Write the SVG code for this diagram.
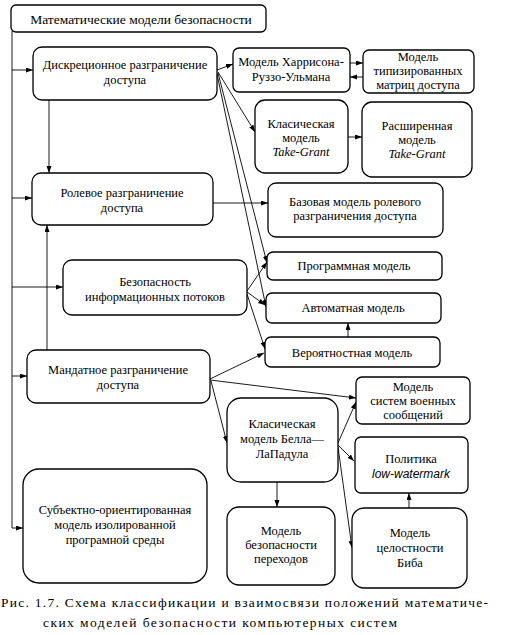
<svg xmlns="http://www.w3.org/2000/svg" width="515" height="635" viewBox="0 0 515 635">
<style>
.b{fill:#fff;stroke:#000;stroke-width:1.3}
text{font-family:'Liberation Serif','Times New Roman','DejaVu Serif',serif;fill:#000}
.t{font-size:12.5px;text-anchor:middle}
.i{font-style:italic}
.s{font-family:'Liberation Sans','DejaVu Sans',sans-serif;font-style:italic;font-size:12px}
.c{fill:none;stroke:#000;stroke-width:0.9}
.cap{font-size:13.5px}
</style>
<defs>
<marker id="a" markerUnits="userSpaceOnUse" markerWidth="8" markerHeight="6" refX="7" refY="2.5" orient="auto">
<path d="M0,0 L7,2.5 L0,5 z" fill="#000"/>
</marker>
</defs>
<rect width="515" height="635" fill="#fff"/>
<g id="connectors" class="c" marker-end="url(#a)">
<polyline points="12,31 12,528 23,528"/>
<line x1="12" y1="70" x2="33" y2="70"/>
<line x1="12" y1="198" x2="32" y2="198"/>
<line x1="12" y1="287" x2="63" y2="287"/>
<line x1="12" y1="376" x2="27" y2="376"/>
<line x1="49" y1="100" x2="49" y2="173"/>
<line x1="47" y1="350" x2="47" y2="225"/>
<line x1="217" y1="70" x2="233" y2="64"/>
<line x1="350" y1="63" x2="363" y2="63"/>
<line x1="363" y1="77" x2="350" y2="77"/>
<line x1="218" y1="72" x2="255" y2="132"/>
<line x1="348" y1="137" x2="362" y2="137"/>
<line x1="218" y1="73" x2="267" y2="263"/>
<line x1="217" y1="74" x2="266" y2="307"/>
<line x1="213" y1="203" x2="268" y2="203"/>
<line x1="247" y1="291" x2="267" y2="262"/>
<line x1="247" y1="292" x2="265" y2="305"/>
<line x1="247" y1="294" x2="265" y2="349"/>
<line x1="348" y1="337" x2="348" y2="323"/>
<line x1="210" y1="379" x2="264" y2="353"/>
<line x1="210" y1="380" x2="356" y2="398"/>
<line x1="211" y1="381" x2="227" y2="443"/>
<line x1="338" y1="443" x2="356" y2="402"/>
<line x1="338" y1="445" x2="354" y2="461"/>
<line x1="338" y1="447" x2="352" y2="548"/>
<line x1="277" y1="482" x2="277" y2="507"/>
<line x1="409" y1="508" x2="409" y2="493"/>
</g>
<g id="root">
<rect class="b" x="11" y="5" width="255" height="27" rx="5"/>
<text class="t" x="141" y="24" style="font-size:13.5px">Математические модели безопасности</text>
</g>
<g id="discretionary">
<rect class="b" x="33" y="47" width="184" height="53" rx="9"/>
<text class="t" x="125" y="69">Дискреционное разграничение</text>
<text class="t" x="125" y="84">доступа</text>
</g>
<g id="role">
<rect class="b" x="32" y="173" width="181" height="52" rx="9"/>
<text class="t" x="122" y="197">Ролевое разграничение</text>
<text class="t" x="122" y="212">доступа</text>
</g>
<g id="flows">
<rect class="b" x="63" y="260" width="184" height="55" rx="9"/>
<text class="t" x="155" y="286">Безопасность</text>
<text class="t" x="155" y="301">информационных потоков</text>
</g>
<g id="mandatory">
<rect class="b" x="27" y="350" width="183" height="53" rx="9"/>
<text class="t" x="118" y="374">Мандатное разграничение</text>
<text class="t" x="118" y="389">доступа</text>
</g>
<g id="subject">
<rect class="b" x="23" y="469" width="184" height="114" rx="16"/>
<text class="t" x="115" y="514">Субъектно-ориентированная</text>
<text class="t" x="115" y="529">модель изолированной</text>
<text class="t" x="115" y="544">програмной среды</text>
</g>
<g id="hru">
<rect class="b" x="233" y="48" width="117" height="44" rx="6"/>
<text class="t" x="291" y="66">Модель Харрисона-</text>
<text class="t" x="291" y="81">Руззо-Ульмана</text>
</g>
<g id="typed">
<rect class="b" x="363" y="50" width="111" height="43" rx="6"/>
<text class="t" x="418" y="61">Модель</text>
<text class="t" x="418" y="75">типизированных</text>
<text class="t" x="418" y="89">матриц доступа</text>
</g>
<g id="tg">
<rect class="b" x="255" y="100" width="93" height="73" rx="10"/>
<text class="t" x="301" y="128">Класическая</text>
<text class="t" x="301" y="142">модель</text>
<text class="t i" x="301" y="156">Take-Grant</text>
</g>
<g id="tgext">
<rect class="b" x="362" y="102" width="110" height="75" rx="10"/>
<text class="t" x="417" y="130">Расширенная</text>
<text class="t" x="417" y="144">модель</text>
<text class="t i" x="417" y="158">Take-Grant</text>
</g>
<g id="rbac">
<rect class="b" x="268" y="183" width="175" height="54" rx="8"/>
<text class="t" x="355" y="206">Базовая модель ролевого</text>
<text class="t" x="355" y="220">разграничения доступа</text>
</g>
<g id="program">
<rect class="b" x="267" y="252" width="175" height="28" rx="6"/>
<text class="t" x="354" y="270">Программная модель</text>
</g>
<g id="automata">
<rect class="b" x="266" y="293" width="175" height="30" rx="6"/>
<text class="t" x="353" y="312">Автоматная модель</text>
</g>
<g id="prob">
<rect class="b" x="265" y="337" width="175" height="30" rx="6"/>
<text class="t" x="352" y="357">Вероятностная модель</text>
</g>
<g id="blp">
<rect class="b" x="227" y="398" width="111" height="84" rx="14"/>
<text class="t" x="282" y="428">Класическая</text>
<text class="t" x="282" y="443">модель Белла—</text>
<text class="t" x="282" y="458">ЛаПадула</text>
</g>
<g id="military">
<rect class="b" x="356" y="377" width="114" height="47" rx="6"/>
<text class="t" x="413" y="391">Модель</text>
<text class="t" x="413" y="405">систем военных</text>
<text class="t" x="413" y="419">сообщений</text>
</g>
<g id="lowwm">
<rect class="b" x="355" y="437" width="113" height="56" rx="6"/>
<text class="t" x="411" y="463">Политика</text>
<text class="t s" x="411" y="478">low-watermark</text>
</g>
<g id="transitions">
<rect class="b" x="227" y="507" width="108" height="78" rx="12"/>
<text class="t" x="281" y="535">Модель</text>
<text class="t" x="281" y="549">безопасности</text>
<text class="t" x="281" y="563">переходов</text>
</g>
<g id="biba">
<rect class="b" x="352" y="508" width="115" height="80" rx="12"/>
<text class="t" x="410" y="537">Модель</text>
<text class="t" x="410" y="552">целостности</text>
<text class="t" x="410" y="567">Биба</text>
</g>
<text class="cap" x="1" y="607" textLength="487" lengthAdjust="spacing">Рис. 1.7. Схема классификации и взаимосвязи положений математиче-</text>
<text class="cap" x="43" y="627" textLength="354" lengthAdjust="spacing">ских моделей безопасности компьютерных систем</text>
</svg>
